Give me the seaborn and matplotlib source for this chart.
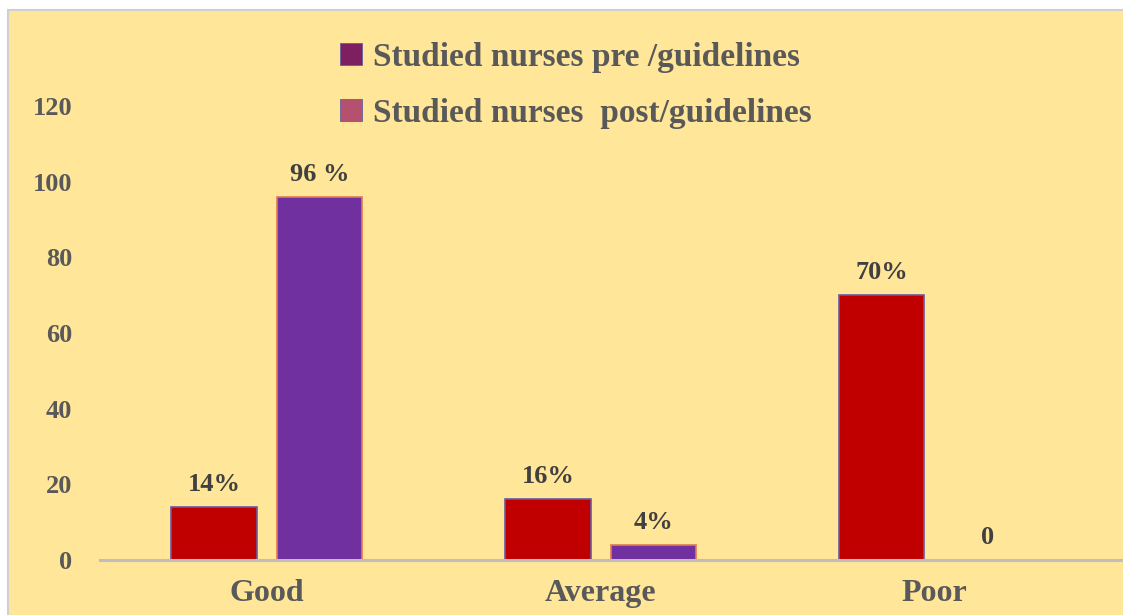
import matplotlib
matplotlib.use("Agg")
import matplotlib.pyplot as plt
from matplotlib.patches import Rectangle, Patch
import pandas as pd
import seaborn as sns

categories = ["Good", "Average", "Poor"]
series = ["Studied nurses pre /guidelines", "Studied nurses  post/guidelines"]
pre_values = [14, 16, 70]
post_values = [96, 4, 0]
pre_labels = ["14%", "16%", "70%"]
post_labels = ["96 %", "4%", "0"]

df = pd.DataFrame({
    "category": categories * 2,
    "series": [series[0]] * 3 + [series[1]] * 3,
    "value": pre_values + post_values,
})

bg = "#FFE699"
bar_colors = ["#C00000", "#7030A0"]
edge_colors = ["#6A5A9E", "#E07A50"]
legend_colors = ["#7E2060", "#B5506E"]
text_col = "#595959"
val_col = "#404040"

fig = plt.figure(figsize=(11.23, 6.15), dpi=100)
fig.patch.set_facecolor("white")
fig.add_artist(Rectangle((8 / 1123, -0.1), 1.2, 1.1 - 10 / 615,
                         transform=fig.transFigure, facecolor=bg,
                         edgecolor="#D0D0D0", linewidth=1.5, zorder=0))

ax = fig.add_axes([100 / 1123, 1 - 560 / 615, 1 - 100 / 1123, (560 - 106) / 615])
ax.set_facecolor("none")

sns.barplot(data=df, x="category", y="value", hue="series", order=categories,
            hue_order=series, palette=bar_colors, saturation=1, width=0.633,
            gap=0.19, legend=False, ax=ax)

# edge colours and value labels
for i, cont in enumerate(ax.containers):
    labels = pre_labels if i == 0 else post_labels
    for bar, lab in zip(cont, labels):
        bar.set_edgecolor(edge_colors[i])
        bar.set_linewidth(1.2)
        h = bar.get_height()
        ax.annotate(lab, (bar.get_x() + bar.get_width() / 2, h),
                    xytext=(0, 8), textcoords="offset points",
                    ha="center", va="bottom", fontsize=19, fontweight="bold",
                    family="Liberation Serif", color=val_col,
                    annotation_clip=False)

ax.set_ylim(0, 120)
ax.set_yticks(range(0, 121, 20))
ax.set_xlim(-0.5, 2.565)
ax.set_xlabel("")
ax.set_ylabel("")
for s in ["top", "right", "left"]:
    ax.spines[s].set_visible(False)
ax.spines["bottom"].set_color("#BFBFBF")
ax.spines["bottom"].set_linewidth(2.2)
ax.tick_params(axis="both", length=0)
ax.tick_params(axis="y", pad=20)
ax.tick_params(axis="x", pad=14)
for t in ax.get_yticklabels():
    t.set_fontsize(19)
    t.set_fontweight("bold")
    t.set_family("Liberation Serif")
    t.set_color(text_col)
for t in ax.get_xticklabels():
    t.set_fontsize(23)
    t.set_fontweight("bold")
    t.set_family("Liberation Serif")
    t.set_color(text_col)

handles = [Patch(facecolor=legend_colors[i], edgecolor="#6060A0", linewidth=0.6)
           for i in range(2)]
fig.legend(handles, series, loc="upper left", bbox_to_anchor=(310 / 1123, 1 - 12 / 615),
           frameon=False, ncol=1, labelspacing=0.75, handlelength=0.65,
           handleheight=0.65, handletextpad=0.35,
           prop={"family": "Liberation Serif", "weight": "bold", "size": 24},
           labelcolor=text_col)

fig.savefig("out.png", dpi=100, facecolor=fig.get_facecolor())
